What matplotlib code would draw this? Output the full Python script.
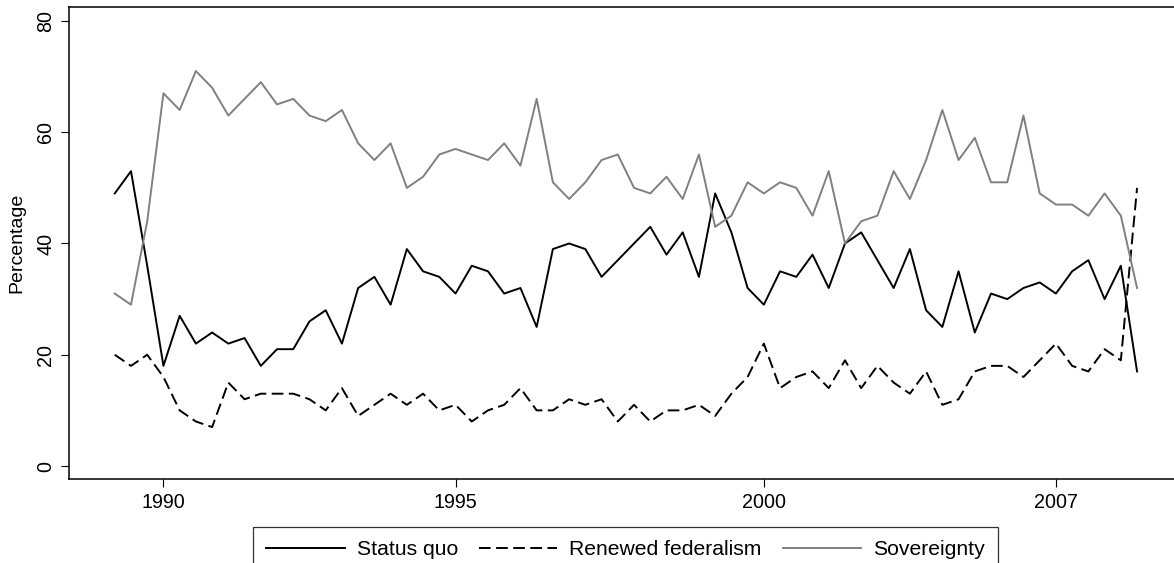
import matplotlib
matplotlib.use("Agg")
import matplotlib.pyplot as plt
import numpy as np

plt.rcParams['font.family'] = ['Liberation Sans', 'DejaVu Sans']

status_quo = [49, 53, 36, 18, 27, 22, 24, 22, 23, 18, 21, 21, 26, 28, 22, 32, 34, 29, 39, 35,
              34, 31, 36, 35, 31, 32, 25, 39, 40, 39, 34, 37, 40, 43, 38, 42, 34, 49, 42, 32,
              29, 35, 34, 38, 32, 40, 42, 37, 32, 39, 28, 25, 35, 24, 31, 30, 32, 33, 31, 35,
              37, 30, 36, 17]
renewed_federalism = [20, 18, 20, 16, 10, 8, 7, 15, 12, 13, 13, 13, 12, 10, 14, 9, 11, 13, 11, 13,
                      10, 11, 8, 10, 11, 14, 10, 10, 12, 11, 12, 8, 11, 8, 10, 10, 11, 9, 13, 16,
                      22, 14, 16, 17, 14, 19, 14, 18, 15, 13, 17, 11, 12, 17, 18, 18, 16, 19, 22, 18,
                      17, 21, 19, 50]
sovereignty = [31, 29, 44, 67, 64, 71, 68, 63, 66, 69, 65, 66, 63, 62, 64, 58, 55, 58, 50, 52,
               56, 57, 56, 55, 58, 54, 66, 51, 48, 51, 55, 56, 50, 49, 52, 48, 56, 43, 45, 51,
               49, 51, 50, 45, 53, 40, 44, 45, 53, 48, 55, 64, 55, 59, 51, 51, 63, 49, 47, 47,
               45, 49, 45, 32]
tick_positions = [3, 21, 40, 58]
tick_labels = ["1990", "1995", "2000", "2007"]
y_ticks = [0, 20, 40, 60, 80]

W, H = 1174, 563
fig = plt.figure(figsize=(W / 100, H / 100), dpi=100)
ax = fig.add_axes([69 / W, (H - 479.3) / H, (W - 69) / W + 0.01, (479.3 - 7.3) / H])

x = np.arange(len(status_quo))
lw = 1.4
ax.plot(x, status_quo, color='black', lw=lw, label='Status quo')
ax.plot(x, renewed_federalism, color='black', lw=lw, dashes=(6, 2.8), label='Renewed federalism')
ax.plot(x, sovereignty, color='#808080', lw=lw, label='Sovereignty')

ax.set_xlim(-2.82, 66.0)
ax.set_ylim(-2.39, 82.46)
ax.set_xticks(tick_positions)
ax.set_xticklabels(tick_labels)
ax.set_yticks(y_ticks)
ax.set_yticklabels([str(v) for v in y_ticks], rotation=90, va='center')
ax.tick_params(axis='both', length=6, width=0.8, labelsize=14.2, color='black')
ax.tick_params(axis='x', pad=4)
ax.tick_params(axis='y', pad=4)
ax.spines['right'].set_visible(False)
for s in ['left', 'top', 'bottom']:
    ax.spines[s].set_linewidth(1.1)
    ax.spines[s].set_color('black')
ax.set_ylabel('Percentage', fontsize=14)
ax.yaxis.set_label_coords(-0.0394, 0.5)

leg = fig.legend(loc='upper center', bbox_to_anchor=(625.5 / W, (H - 527) / H), ncol=3,
                 fontsize=15.2, frameon=True, fancybox=False, edgecolor='black',
                 handlelength=3.7, handletextpad=0.57, columnspacing=1.0, borderpad=0.62,
                 borderaxespad=0)
leg.get_frame().set_linewidth(0.9)

fig.savefig('out.png', dpi=100)
